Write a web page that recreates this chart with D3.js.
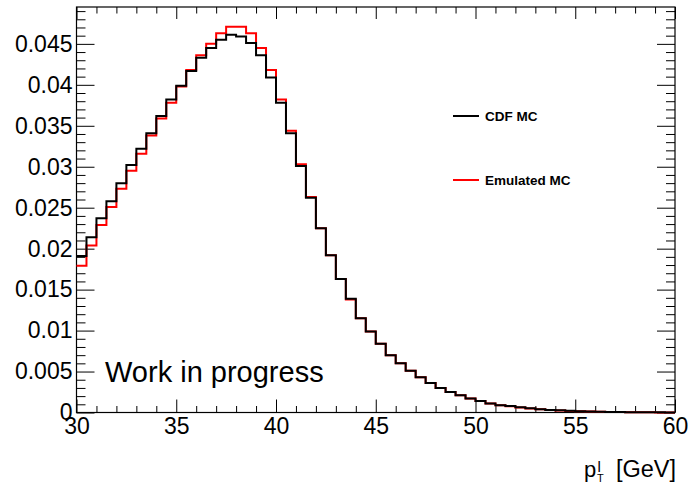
<!DOCTYPE html>
<html>
<head>
<meta charset="utf-8">
<script src="https://cdn.jsdelivr.net/npm/d3@7/dist/d3.min.js"></script>
<style>
  html, body { margin: 0; padding: 0; background: #fff; }
  svg { display: block; }
  text { font-family: "Liberation Sans", Arial, Helvetica, sans-serif; fill: #000; }
</style>
</head>
<body>
<svg id="chart" width="688" height="484"></svg>
<script>
// ---- data ----
const binEdgesLow = d3.range(60).map(i => 30 + i * 0.5); // 0.5 GeV bins, 30..60
const cdfMC = [
  0.0191, 0.0214, 0.0237, 0.0258, 0.0280, 0.0302, 0.0322, 0.0341, 0.0362, 0.0382,
  0.0399, 0.0417, 0.0433, 0.0445, 0.0455, 0.0461, 0.0459, 0.0451, 0.0436, 0.0409,
  0.0378, 0.0341, 0.0301, 0.0262, 0.0225, 0.0192, 0.0163, 0.0139, 0.0115, 0.0099,
  0.0084, 0.0070, 0.0060, 0.0051, 0.0043, 0.0036, 0.0030, 0.0025, 0.0021, 0.0017,
  0.0014, 0.0011, 0.0009, 0.00078, 0.00063, 0.00051, 0.00040, 0.00032, 0.00026, 0.00020,
  0.00015, 0.00012, 0.00009, 0.00007, 0.00005, 0.00004, 0.00003, 0.00002, 0.00002, 0.00001
];
const emulatedMC = [
  0.0179, 0.0204, 0.0229, 0.0251, 0.0273, 0.0295, 0.0316, 0.0338, 0.0359, 0.0378,
  0.0398, 0.0418, 0.0436, 0.0450, 0.0463, 0.0471, 0.0471, 0.0463, 0.0445, 0.0418,
  0.0382, 0.0344, 0.0303, 0.0263, 0.0225, 0.0192, 0.0163, 0.0138, 0.0115, 0.0099,
  0.0084, 0.0070, 0.0060, 0.0051, 0.0043, 0.0036, 0.0030, 0.0025, 0.0021, 0.0017,
  0.0014, 0.0011, 0.0009, 0.00077, 0.00062, 0.00050, 0.00039, 0.00031, 0.00025, 0.00019,
  0.00014, 0.00011, 0.00008, 0.00006, 0.00005, 0.00004, 0.00003, 0.00002, 0.00001, 0.00001
];
const xMajorTicks = [30, 35, 40, 45, 50, 55, 60];
const xTickLabels = ["30", "35", "40", "45", "50", "55", "60"];
const yMajorTicks = [0, 0.005, 0.01, 0.015, 0.02, 0.025, 0.03, 0.035, 0.04, 0.045];
const yTickLabels = ["0", "0.005", "0.01", "0.015", "0.02", "0.025", "0.03", "0.035", "0.04", "0.045"];
const xMinorTicks = d3.range(30, 61, 1).filter(v => v % 5 !== 0);
const yMinorTicks = d3.range(1, 50).map(i => i * 0.001).filter((v, i) => (i + 1) % 5 !== 0);
const seriesNames = ["CDF MC", "Emulated MC"];
const seriesColors = ["#000000", "#ff0000"];

// ---- layout ----
const svg = d3.select("#chart");
const L = 76.5, R = 675, T = 7, B = 412.5;
const x = d3.scaleLinear().domain([30, 60]).range([L, R]);
const y = d3.scaleLinear().domain([0, 0.0495]).range([B, T]);

svg.append("rect").attr("width", 688).attr("height", 484).attr("fill", "#fff");

// axes (ticks pointing inward on all four sides)
function styleAxis(g) {
  g.select(".domain").remove();
  g.selectAll(".tick line").attr("stroke", "#000").attr("stroke-width", 1);
  g.selectAll(".tick text").style("font-size", "23px").style("font-family", "'Liberation Sans', Arial, sans-serif").attr("fill", "#000");
}
// bottom
svg.append("g").attr("transform", `translate(0,${B})`)
  .call(d3.axisBottom(x).tickValues(xMinorTicks).tickSize(-6.5).tickFormat(""))
  .call(styleAxis);
svg.append("g").attr("transform", `translate(0,${B})`)
  .call(d3.axisBottom(x).tickValues(xMajorTicks).tickSize(-13).tickPadding(5).tickFormat((d, i) => xTickLabels[i]))
  .call(styleAxis);
// top
svg.append("g").attr("transform", `translate(0,${T})`)
  .call(d3.axisTop(x).tickValues(xMinorTicks).tickSize(-6.5).tickFormat(""))
  .call(styleAxis);
svg.append("g").attr("transform", `translate(0,${T})`)
  .call(d3.axisTop(x).tickValues(xMajorTicks).tickSize(-12).tickFormat(""))
  .call(styleAxis);
// left
svg.append("g").attr("transform", `translate(${L},0)`)
  .call(d3.axisLeft(y).tickValues(yMinorTicks).tickSize(-9).tickFormat(""))
  .call(styleAxis);
svg.append("g").attr("transform", `translate(${L},0)`)
  .call(d3.axisLeft(y).tickValues(yMajorTicks).tickSize(-18).tickPadding(4).tickFormat((d, i) => yTickLabels[i]))
  .call(styleAxis);
// right
svg.append("g").attr("transform", `translate(${R},0)`)
  .call(d3.axisRight(y).tickValues(yMinorTicks).tickSize(-9).tickFormat(""))
  .call(styleAxis);
svg.append("g").attr("transform", `translate(${R},0)`)
  .call(d3.axisRight(y).tickValues(yMajorTicks).tickSize(-18).tickFormat(""))
  .call(styleAxis);

// frame
svg.append("rect").attr("x", L).attr("y", T).attr("width", R - L).attr("height", B - T)
  .attr("fill", "none").attr("stroke", "#000").attr("stroke-width", 1.2);

// histograms
const line = d3.line().x(d => x(d[0])).y(d => y(d[1])).curve(d3.curveStepAfter);
function histPoints(vals) {
  const pts = binEdgesLow.map((e, i) => [e, vals[i]]);
  pts.push([60, vals[vals.length - 1]]);
  return pts;
}
svg.append("path").datum(histPoints(emulatedMC)).attr("d", line)
  .attr("fill", "none").attr("stroke", seriesColors[1]).attr("stroke-width", 2);
svg.append("path").datum(histPoints(cdfMC)).attr("d", line)
  .attr("fill", "none").attr("stroke", seriesColors[0]).attr("stroke-width", 2);

// legend
const legY = [116, 180];
seriesNames.forEach((name, i) => {
  svg.append("line").attr("x1", 453).attr("x2", 479).attr("y1", legY[i]).attr("y2", legY[i])
    .attr("stroke", seriesColors[i]).attr("stroke-width", 2);
  svg.append("text").attr("x", 485).attr("y", legY[i] + 5)
    .style("font-size", "13.5px").style("font-weight", "bold").text(name);
});

// "Work in progress"
svg.append("text").attr("x", 105).attr("y", 382).style("font-size", "29px").text("Work in progress");

// x-axis title  p_T^l [GeV]
svg.append("text").attr("x", 676).attr("y", 477).attr("text-anchor", "end")
  .style("font-size", "23.5px").text("[GeV]");
svg.append("text").attr("x", 584).attr("y", 477).style("font-size", "22px").text("p");
svg.append("text").attr("x", 597.5).attr("y", 472).style("font-size", "15px").text("l");
svg.append("text").attr("x", 597).attr("y", 481.5).style("font-size", "11px").text("T");
</script>
</body>
</html>
